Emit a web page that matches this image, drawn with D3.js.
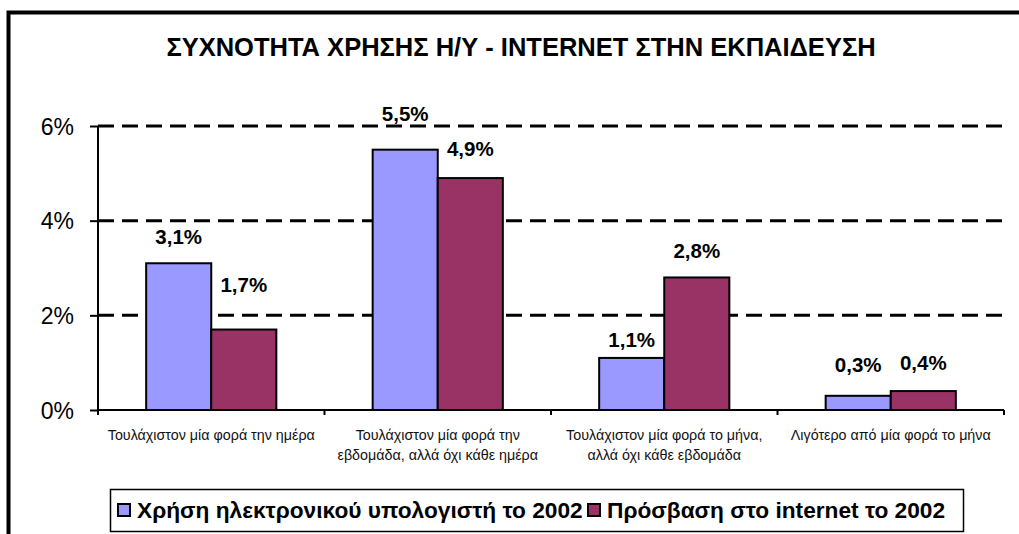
<!DOCTYPE html>
<html>
<head>
<meta charset="utf-8">
<script src="https://cdn.jsdelivr.net/npm/d3@7"></script>
<style>
  html, body { margin: 0; padding: 0; background: #fff; }
  svg { display: block; font-family: "Liberation Sans", Arial, sans-serif; }
</style>
</head>
<body>
<svg id="chart" width="1019" height="534"></svg>
<script>
// Survey frequencies of computer / internet use in education (percent)
const categories = [
  ["Τουλάχιστον μία φορά την ημέρα"],
  ["Τουλάχιστον μία φορά την", "εβδομάδα, αλλά όχι κάθε ημέρα"],
  ["Τουλάχιστον μία φορά το μήνα,", "αλλά όχι κάθε εβδομάδα"],
  ["Λιγότερο από μία φορά το μήνα"]
];
const seriesNames = [
  "Χρήση ηλεκτρονικού υπολογιστή το 2002",
  "Πρόσβαση στο internet το 2002"
];
const computerUse = [3.1, 5.5, 1.1, 0.3];
const internetAccess = [1.7, 4.9, 2.8, 0.4];
const yTicks = [0, 2, 4, 6];

// extra lift (px) of each value label above its bar, per category and series
const labelLift = [[8, 27], [18, 11], [0, 8], [13, 10]];

const colors = ["#9999FF", "#993366"];
const series = [computerUse, internetAccess];

const svg = d3.select("#chart");
const plot = { left: 98, right: 1004, top: 126, bottom: 410 };

// outer frame (extends past the visible area on the right and bottom)
svg.append("rect")
  .attr("x", 8.5).attr("y", 12.5)
  .attr("width", 1040).attr("height", 560)
  .attr("fill", "none").attr("stroke", "#000").attr("stroke-width", 4);

// title
svg.append("text")
  .attr("x", 521).attr("y", 56)
  .attr("text-anchor", "middle")
  .attr("font-size", 25.5).attr("font-weight", "bold")
  .text("ΣΥΧΝΟΤΗΤΑ ΧΡΗΣΗΣ Η/Υ - INTERNET ΣΤΗΝ ΕΚΠΑΙΔΕΥΣΗ");

const x0 = d3.scaleBand()
  .domain(d3.range(categories.length))
  .range([plot.left, plot.right])
  .paddingInner(0).paddingOuter(0);

const x1 = d3.scaleBand()
  .domain(d3.range(series.length))
  .range([0, x0.bandwidth()])
  .paddingOuter(0.74).paddingInner(0);

const y = d3.scaleLinear().domain([0, 6]).range([plot.bottom, plot.top]);

// dashed gridlines
svg.append("g")
  .selectAll("line")
  .data(yTicks.filter(d => d > 0))
  .join("line")
  .attr("x1", plot.left).attr("x2", plot.right)
  .attr("y1", d => y(d)).attr("y2", d => y(d))
  .attr("stroke", "#000").attr("stroke-width", 3)
  .attr("stroke-dasharray", "16,8");

// y axis
const yAxis = d3.axisLeft(y)
  .tickValues(yTicks)
  .tickFormat(d => d + "%")
  .tickSize(8).tickPadding(16);
const gy = svg.append("g")
  .attr("transform", `translate(${plot.left},0)`)
  .call(yAxis);
gy.select(".domain").attr("stroke", "#000").attr("stroke-width", 2)
  .attr("d", `M0,${plot.top}V${plot.bottom}`);
gy.selectAll(".tick line").attr("stroke", "#000").attr("stroke-width", 2);
gy.selectAll(".tick text")
  .attr("font-size", 23).attr("fill", "#000")
  .attr("font-family", "Liberation Sans, Arial, sans-serif")
  .attr("dy", "0.36em");

// x axis with ticks at category boundaries
const boundaries = d3.range(categories.length + 1).map(i =>
  i < categories.length ? x0(i) : x0(i - 1) + x0.bandwidth());
const gx = svg.append("g");
gx.append("line")
  .attr("x1", plot.left).attr("x2", plot.right)
  .attr("y1", plot.bottom).attr("y2", plot.bottom)
  .attr("stroke", "#000").attr("stroke-width", 2);
gx.selectAll("line.tick")
  .data(boundaries)
  .join("line")
  .attr("class", "tick")
  .attr("x1", d => d).attr("x2", d => d)
  .attr("y1", plot.bottom).attr("y2", plot.bottom + 5)
  .attr("stroke", "#000").attr("stroke-width", 2);

// category labels
const catLabels = svg.append("g")
  .selectAll("text")
  .data(categories)
  .join("text")
  .attr("text-anchor", "middle")
  .attr("font-size", 14.3)
  .attr("fill", "#111")
  .attr("transform", (d, i) => `translate(${x0(i) + x0.bandwidth() / 2},${plot.bottom + 30})`);
catLabels.selectAll("tspan")
  .data(d => d)
  .join("tspan")
  .attr("x", 0)
  .attr("y", (d, i) => i * 20)
  .text(d => d);

// bars
const groups = svg.append("g")
  .selectAll("g")
  .data(categories.map((c, i) => series.map((s, k) => ({ cat: i, k, v: s[i] }))))
  .join("g")
  .attr("transform", (d, i) => `translate(${x0(i)},0)`);

groups.selectAll("rect")
  .data(d => d)
  .join("rect")
  .attr("x", d => x1(d.k))
  .attr("width", x1.bandwidth())
  .attr("y", d => y(d.v))
  .attr("height", d => y(0) - y(d.v))
  .attr("fill", d => colors[d.k])
  .attr("stroke", "#000").attr("stroke-width", 2);

// value labels
groups.selectAll("text")
  .data(d => d)
  .join("text")
  .attr("x", d => x1(d.k) + x1.bandwidth() / 2)
  .attr("y", d => y(d.v) - 11 - labelLift[d.cat][d.k])
  .attr("text-anchor", "middle")
  .attr("font-size", 20.5).attr("font-weight", "bold")
  .text(d => d3.format(".1f")(d.v).replace(".", ",") + "%");

// legend
const legend = svg.append("g");
legend.append("rect")
  .attr("x", 110.5).attr("y", 489.5)
  .attr("width", 853).attr("height", 42)
  .attr("fill", "#fff").attr("stroke", "#000").attr("stroke-width", 1.5);
const legendX = [118, 588];
seriesNames.forEach((name, k) => {
  legend.append("rect")
    .attr("x", legendX[k]).attr("y", 504)
    .attr("width", 12).attr("height", 12)
    .attr("fill", colors[k]).attr("stroke", "#000").attr("stroke-width", 2);
  legend.append("text")
    .attr("x", legendX[k] + 19).attr("y", 518)
    .attr("font-size", 22.7).attr("font-weight", "bold")
    .text(name);
});
</script>
</body>
</html>
